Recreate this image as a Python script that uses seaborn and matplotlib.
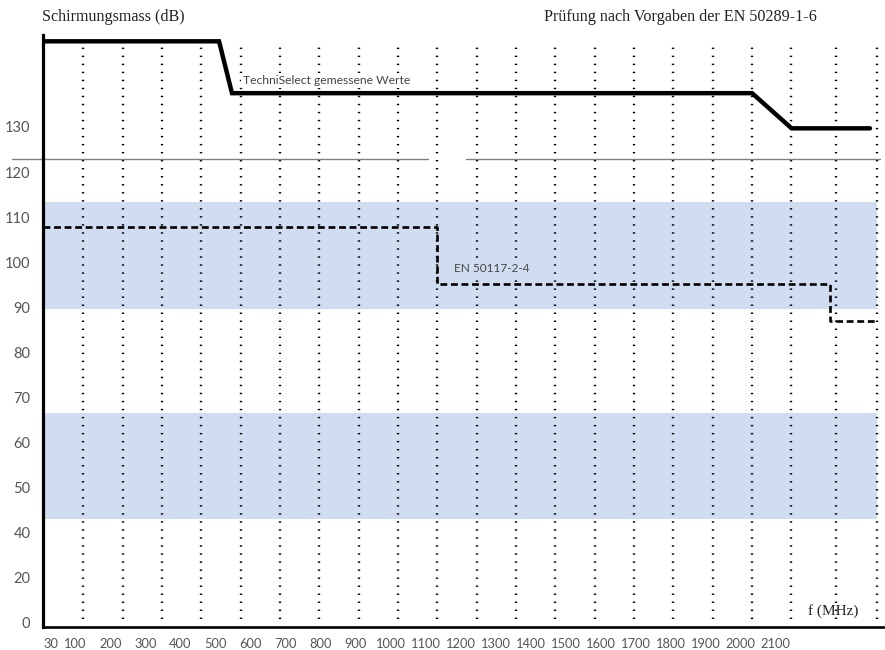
import numpy as np
import pandas as pd
import matplotlib
matplotlib.use("Agg")
import matplotlib.pyplot as plt
import seaborn as sns

# Werte (x in MHz, y in dB)
x_ticks = [30, 100, 200, 300, 400, 500, 600, 700, 800, 900, 1000, 1100,
           1200, 1300, 1400, 1500, 1600, 1700, 1800, 1900, 2000, 2100]
y_ticks = [0, 20, 40, 50, 60, 70, 80, 90, 100, 110, 120, 130]

# gemessene Werte TechniSelect
techni_f = [7, 510, 547, 2033, 2146, 2370]
techni_db = [149, 149, 137.5, 137.5, 129.7, 129.7]

# Grenzwert EN 50117-2-4 (Stufen)
norm_f = [7, 1134, 2256, 2389]
norm_db = [107.9, 95.2, 87.0, 87.0]

# blaue Bereiche (unten, oben)
bands = [(89.7, 113.4), (43.0, 66.5)]
band_end = 2389

# punktierte Hilfslinien
grid_f = [122, 235, 347, 459, 572, 684, 797, 909, 1021, 1134, 1246, 1359,
          1471, 1583, 1696, 1808, 1921, 2033, 2145, 2273, 2389]

# graue Linie bei ca. 123 dB mit Lücke
ref_db = 122.9
ref_parts = [(-81, 1107), (1216, 2399)]


def fwd(y):
    y = np.asarray(y, dtype=float)
    return np.where(y >= 40, y, 20 + y / 2)


def inv(v):
    v = np.asarray(v, dtype=float)
    return np.where(v >= 40, v, 2 * (v - 20))


sns.set_style("white")
plt.rcParams['font.family'] = ['Lato', 'DejaVu Sans']

fig = plt.figure(figsize=(8.85, 6.5), dpi=100)
ax = fig.add_axes([43 / 885, 23 / 650, 841 / 885, 592 / 650])
ax.set_yscale('function', functions=(fwd, inv))
ax.set_xlim(7, 2410)
ax.set_ylim(-1.8, 150.4)

band_col = '#d0ddf0'
for lo, hi in bands:
    ax.fill_between([7, band_end], lo, hi, color=band_col, lw=0, zorder=0)

ax.vlines(grid_f, 1.8, 148.2, colors='black', linewidth=1.7,
          linestyles=(0, (0.6, 2.8)), zorder=1)

for a, b in ref_parts:
    ax.plot([a, b], [ref_db, ref_db], color='#808080', lw=1.0, clip_on=False, zorder=1)

df_t = pd.DataFrame({'f': techni_f, 'db': techni_db})
sns.lineplot(data=df_t, x='f', y='db', sort=False, estimator=None,
             color='black', lw=3.2, ax=ax, zorder=3)
ax.lines[-1].set_solid_joinstyle('miter')

df_n = pd.DataFrame({'f': norm_f, 'db': norm_db})
sns.lineplot(data=df_n, x='f', y='db', sort=False, estimator=None,
             color='black', lw=1.9, ax=ax, drawstyle='steps-post', zorder=3)
ax.lines[-1].set_dashes((2.6, 1.4))

# Beschriftungen verdecken die punktierten Linien
ax.text(579, 140.4, 'TechniSelect gemessene Werte', fontsize=8.7,
        color='#444444', va='center', ha='left', zorder=4,
        bbox=dict(facecolor='white', edgecolor='none', pad=1.5))
ax.text(1181, 98.7, 'EN 50117-2-4', fontsize=8.5,
        color='#444444', va='center', ha='left', zorder=4,
        bbox=dict(facecolor=band_col, edgecolor='none', pad=2.5))
ax.text(2264, 5.3, 'f (MHz)', fontsize=11, family='Liberation Serif',
        color='#222222', va='center', ha='center')

fig.text(42 / 885, 1 - 17 / 650, 'Schirmungsmass (dB)', fontsize=11.6,
         family='Liberation Serif', color='#222222', va='center', ha='left')
fig.text(817 / 885, 1 - 17 / 650, 'Prüfung nach Vorgaben der EN 50289-1-6',
         fontsize=11.6, family='Liberation Serif', color='#222222',
         va='center', ha='right')

ax.set_xticks(x_ticks)
ax.set_xticklabels([str(v) for v in x_ticks])
ax.set_yticks(y_ticks)
ax.set_yticklabels([str(v) for v in y_ticks])
ax.tick_params(axis='x', length=0, pad=8, labelsize=9.3, labelcolor='#555555')
ax.tick_params(axis='y', length=0, pad=9, labelsize=10.5, labelcolor='#555555')
ax.set_xlabel('')
ax.set_ylabel('')

sns.despine(ax=ax, top=True, right=True)
ax.spines['left'].set_linewidth(2.3)
ax.spines['left'].set_color('black')
ax.spines['bottom'].set_linewidth(1.9)
ax.spines['bottom'].set_color('black')

fig.savefig('out.png', dpi=100)
